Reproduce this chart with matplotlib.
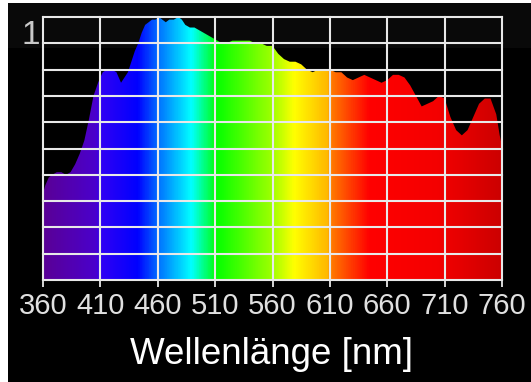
import numpy as np
import matplotlib
matplotlib.use('Agg')
import matplotlib.pyplot as plt
from matplotlib.colors import LinearSegmentedColormap
from matplotlib.patches import Rectangle


wavelengths = [360, 362, 365, 368, 372, 376, 380, 384, 388, 392, 396, 400, 404, 408,
               412, 416, 420, 424, 428, 431, 434, 437, 440, 443, 446, 449, 452, 455,
               458, 461, 464, 467, 470, 474, 478, 481, 484, 488, 492, 496, 500, 504,
               508, 512, 516, 520, 525, 530, 535, 540, 545, 550, 555, 560, 565, 570,
               575, 580, 585, 590, 595, 600, 605, 610, 615, 620, 625, 630, 635, 640,
               645, 650, 655, 660, 665, 670, 675, 680, 685, 690, 695, 700, 705, 710,
               715, 720, 725, 730, 735, 740, 745, 750, 755, 758, 760]
intensity = [0.33, 0.36, 0.39, 0.40, 0.41, 0.41, 0.40, 0.41, 0.44, 0.48, 0.53, 0.61,
             0.70, 0.75, 0.79, 0.80, 0.80, 0.79, 0.75, 0.77, 0.79, 0.83, 0.87, 0.90,
             0.94, 0.97, 0.98, 0.99, 0.99, 1.00, 0.99, 0.98, 0.99, 0.99, 1.00, 0.99,
             0.97, 0.96, 0.96, 0.95, 0.94, 0.93, 0.92, 0.91, 0.90, 0.90, 0.91, 0.91,
             0.91, 0.91, 0.90, 0.90, 0.89, 0.89, 0.86, 0.84, 0.83, 0.83, 0.82, 0.80,
             0.79, 0.80, 0.80, 0.80, 0.79, 0.79, 0.77, 0.76, 0.77, 0.78, 0.77, 0.76,
             0.75, 0.76, 0.78, 0.78, 0.77, 0.74, 0.70, 0.66, 0.67, 0.68, 0.70, 0.69,
             0.62, 0.57, 0.55, 0.57, 0.62, 0.67, 0.69, 0.69, 0.63, 0.55, 0.51]
x_ticks = [360, 410, 460, 510, 560, 610, 660, 710, 760]
y_grid = [0.0, 0.1, 0.2, 0.3, 0.4, 0.5, 0.6, 0.7, 0.8, 0.9, 1.0]

# Spektralfarben
spectrum = [(360, '#5a0096'), (405, '#4a00cc'), (410, '#3000f4'), (442, '#0000ff'),
            (460, '#0070ff'), (489, '#00ffff'), (506, '#00ff40'), (510, '#00ff00'),
            (560, '#a0ff00'), (579, '#ffff00'), (608, '#ffb800'), (612, '#ff7800'),
            (645, '#ff0000'), (705, '#f40000'), (760, '#cc0000')]
cmap = LinearSegmentedColormap.from_list(
    'spektrum', [((w - 360) / 400, c) for w, c in spectrum])

W, H = 531, 382
font = ['Liberation Sans', 'DejaVu Sans']
fig = plt.figure(figsize=(W / 100, H / 100), dpi=100, facecolor='white')
fig.patches.append(Rectangle((8 / W, 0), 1, 1 - 3 / H, transform=fig.transFigure,
                             facecolor='black', edgecolor='none', zorder=-2))
fig.patches.append(Rectangle((8 / W, 1 - 48 / H), 1, 45 / H, transform=fig.transFigure,
                             facecolor='#090909', edgecolor='none', zorder=-1))

ax = fig.add_axes([43 / W, 1 - 280 / H, (502 - 43) / W, (280 - 17) / H])
ax.set_facecolor('none')
ax.set_xlim(360, 760)
ax.set_ylim(0, 1)

poly = ax.fill_between(wavelengths, intensity, 0, facecolor='none', edgecolor='none')
grad = np.linspace(360, 760, 800).reshape(1, -1)
img = ax.imshow(grad, extent=[360, 760, 0, 1], aspect='auto', cmap=cmap,
                vmin=360, vmax=760, origin='lower', zorder=1)
img.set_clip_path(poly.get_paths()[0], transform=ax.transData)

grid_col = '#e8e8e8'
for x in x_ticks:
    ax.axvline(x, color=grid_col, lw=1.5, zorder=3, clip_on=False)
for y in y_grid:
    ax.axhline(y, color=grid_col, lw=1.5, zorder=3, clip_on=False)

for s in ax.spines.values():
    s.set_visible(False)
ax.set_yticks([])
ax.set_xticks(x_ticks)
ax.set_xticklabels([str(t) for t in x_ticks], family=font)
ax.tick_params(axis='x', direction='out', length=5, width=1.3, color=grid_col,
               labelcolor='#e0e0e0', labelsize=21, pad=4)

fig.text(22 / W, 1 - 20 / H, '1', ha='left', va='top', color='#c8c8c8',
         fontsize=24, family=font)
fig.text(272 / W, 1 - 364 / H, 'Wellenlänge [nm]', ha='center', va='baseline',
         color='white', fontsize=26.5, family=font)

fig.savefig('out.png', dpi=100, facecolor=fig.get_facecolor())
